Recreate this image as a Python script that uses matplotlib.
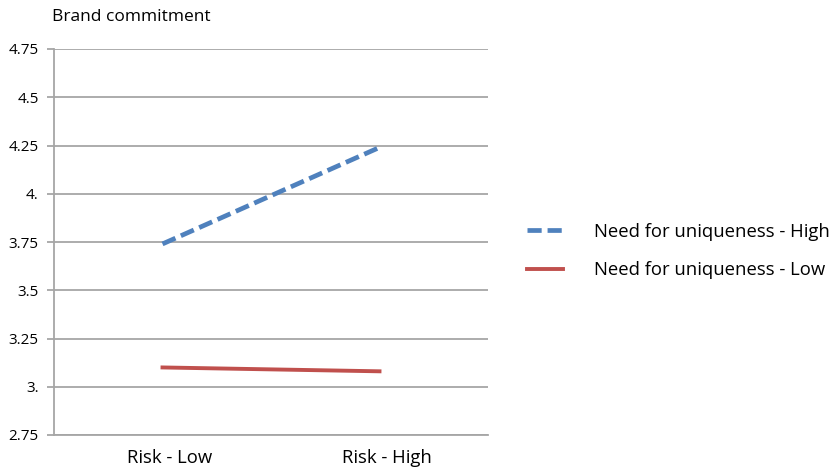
import numpy as np
import matplotlib.pyplot as plt
import matplotlib.transforms as mtransforms

plt.rcParams['font.family'] = ['Open Sans', 'DejaVu Sans']

categories = ['Risk - Low', 'Risk - High']
high_nfu = [3.74, 4.24]
low_nfu = [3.10, 3.08]
yticks = [2.75, 3.0, 3.25, 3.5, 3.75, 4.0, 4.25, 4.5, 4.75]
ytick_labels = ['2.75', '3.', '3.25', '3.5', '3.75', '4.', '4.25', '4.5', '4.75']

fig = plt.figure(figsize=(8.32, 4.72), dpi=100)
ax = fig.add_axes([54 / 832, 1 - 435 / 472, 434 / 832, 386 / 472])

x = np.arange(len(categories))
ax.plot(x, high_nfu, color='#4F81BD', lw=3.4, dashes=(3.0, 1.25),
        solid_capstyle='butt', label='Need for uniqueness - High')
ax.plot(x, low_nfu, color='#C0504D', lw=2.8, label='Need for uniqueness - Low')

ax.set_xlim(-0.5, 1.5)
ax.set_ylim(2.75, 4.75)
ax.set_yticks(yticks)
ax.set_yticklabels(ytick_labels)
ax.set_xticks(x)
ax.set_xticklabels(categories)
ax.grid(axis='y', color='#A6A6A6', lw=1.3)
ax.set_axisbelow(True)

for s in ['top', 'right']:
    ax.spines[s].set_visible(False)
ax.spines['left'].set_color('#A6A6A6')
ax.spines['left'].set_linewidth(1.3)
ax.spines['bottom'].set_color('#A6A6A6')
ax.spines['bottom'].set_linewidth(1.3)
ax.tick_params(axis='y', length=5, color='#A6A6A6', width=1.3, labelsize=11, pad=6)
ax.tick_params(axis='x', length=0, labelsize=13.3, pad=10)

# nudge category labels slightly right
shift = mtransforms.ScaledTranslation(7 / 100, 0, fig.dpi_scale_trans)
for lbl in ax.get_xticklabels():
    lbl.set_transform(lbl.get_transform() + shift)

fig.text(52 / 832, 1 - 17 / 472, 'Brand commitment', fontsize=12.5, va='center', ha='left')

fig.legend(loc='upper left', bbox_to_anchor=(510 / 832, 1 - 206 / 472),
           frameon=False, fontsize=13.3, handlelength=1.95, handletextpad=1.7,
           labelspacing=1.12)

fig.savefig('out.png', dpi=100)
